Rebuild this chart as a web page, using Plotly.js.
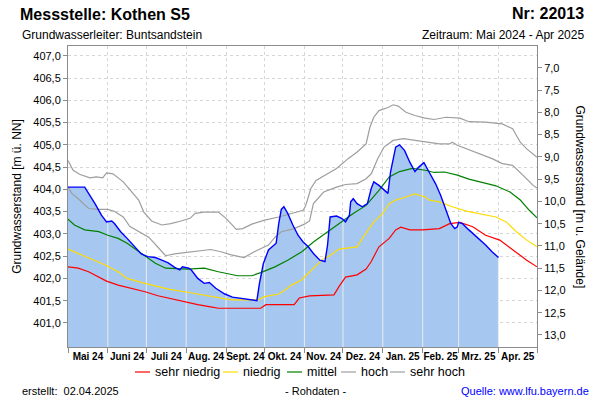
<!DOCTYPE html>
<html><head><meta charset="utf-8">
<script src="https://cdn.plot.ly/plotly-3.0.1.min.js"></script>
<style>html,body{margin:0;padding:0;background:#fff}#chart{width:600px;height:400px}</style>
</head><body><div id="chart"></div>
<script>
// ---------- data ----------
const messDates = ['2024-05-01','2024-05-14','2024-05-22','2024-05-27','2024-05-31','2024-06-04','2024-06-06','2024-06-11','2024-06-16','2024-06-22','2024-06-27','2024-07-02','2024-07-08','2024-07-13','2024-07-18','2024-07-23','2024-07-27','2024-07-29','2024-08-03','2024-08-05','2024-08-10','2024-08-15','2024-08-19','2024-08-24','2024-08-31','2024-09-06','2024-09-11','2024-09-17','2024-09-22','2024-09-25','2024-09-27','2024-09-30','2024-10-04','2024-10-08','2024-10-10','2024-10-12','2024-10-14','2024-10-16','2024-10-19','2024-10-23','2024-10-27','2024-10-31','2024-11-04','2024-11-08','2024-11-13','2024-11-17','2024-11-19','2024-11-21','2024-11-26','2024-11-30','2024-12-03','2024-12-06','2024-12-07','2024-12-09','2024-12-12','2024-12-16','2024-12-20','2024-12-23','2024-12-25','2024-12-29','2025-01-02','2025-01-05','2025-01-07','2025-01-11','2025-01-14','2025-01-18','2025-01-22','2025-01-26','2025-01-29','2025-02-02','2025-02-06','2025-02-11','2025-02-15','2025-02-19','2025-02-23','2025-02-26','2025-02-28','2025-03-01','2025-03-04','2025-03-09','2025-03-16','2025-03-22','2025-03-27','2025-04-01'];
const messValues = [404.05,404.05,403.68,403.42,403.27,403.29,403.24,403.05,402.90,402.71,402.55,402.49,402.47,402.41,402.35,402.25,402.19,402.26,402.23,402.19,402.00,401.89,401.91,401.78,401.65,401.58,401.56,401.53,401.50,401.50,401.89,402.33,402.64,402.73,402.79,403.23,403.55,403.61,403.46,403.20,402.97,402.82,402.71,402.56,402.41,402.38,402.75,403.38,403.40,403.35,403.27,403.42,403.72,403.79,403.68,403.61,403.68,404.02,404.17,404.09,403.98,403.91,404.39,404.95,405.00,404.87,404.61,404.40,404.50,404.60,404.39,404.13,403.87,403.53,403.23,403.12,403.16,403.26,403.23,403.09,402.91,402.75,402.60,402.47];

const sehrNiedrigDates = ['2024-05-01','2024-05-09','2024-05-17','2024-05-25','2024-05-31','2024-06-09','2024-06-19','2024-06-30','2024-07-10','2024-07-20','2024-08-02','2024-08-10','2024-08-20','2024-08-26','2024-09-28','2024-10-02','2024-10-24','2024-10-28','2024-11-05','2024-11-24','2024-11-28','2024-12-03','2024-12-12','2024-12-19','2024-12-23','2024-12-29','2025-01-06','2025-01-11','2025-01-15','2025-01-22','2025-02-01','2025-02-14','2025-02-22','2025-03-02','2025-03-12','2025-03-22','2025-04-02','2025-04-12','2025-04-23','2025-05-01'];
const sehrNiedrigValues = [402.26,402.23,402.15,402.04,401.94,401.85,401.78,401.70,401.61,401.54,401.45,401.41,401.36,401.33,401.33,401.41,401.41,401.56,401.61,401.63,401.82,402.03,402.08,402.21,402.38,402.71,402.90,403.09,403.15,403.09,403.09,403.12,403.23,403.26,403.16,402.97,402.86,402.64,402.41,402.26];

const niedrigDates = ['2024-05-01','2024-05-09','2024-05-19','2024-05-30','2024-06-09','2024-06-16','2024-06-27','2024-07-08','2024-07-18','2024-08-02','2024-08-15','2024-08-26','2024-09-05','2024-09-26','2024-10-01','2024-10-12','2024-10-15','2024-10-22','2024-10-30','2024-11-08','2024-11-16','2024-11-20','2024-11-28','2024-12-12','2024-12-16','2024-12-25','2025-01-01','2025-01-06','2025-01-11','2025-01-19','2025-01-26','2025-02-03','2025-02-06','2025-02-14','2025-02-24','2025-03-07','2025-03-17','2025-03-30','2025-04-07','2025-04-15','2025-04-23','2025-05-01'];
const niedrigValues = [402.66,402.56,402.45,402.30,402.15,402.00,401.91,401.83,401.76,401.69,401.63,401.58,401.52,401.52,401.59,401.65,401.70,401.85,401.97,402.23,402.45,402.50,402.66,402.71,402.90,403.27,403.46,403.68,403.76,403.83,403.90,403.83,403.76,403.72,403.61,403.51,403.46,403.38,403.27,403.05,402.86,402.71];

const mittelDates = ['2024-05-01','2024-05-06','2024-05-14','2024-05-25','2024-06-01','2024-06-09','2024-06-16','2024-06-25','2024-07-02','2024-07-08','2024-07-16','2024-08-02','2024-08-15','2024-08-26','2024-09-10','2024-09-21','2024-09-28','2024-10-09','2024-10-19','2024-10-30','2024-11-08','2024-11-19','2024-11-28','2024-12-09','2024-12-19','2024-12-29','2025-01-06','2025-01-14','2025-01-24','2025-02-03','2025-02-10','2025-02-18','2025-02-28','2025-03-09','2025-03-20','2025-03-30','2025-04-10','2025-04-18','2025-04-25','2025-05-01'];
const mittelValues = [403.33,403.20,403.09,403.05,402.97,402.90,402.79,402.60,402.45,402.34,402.23,402.21,402.23,402.15,402.06,402.06,402.13,402.26,402.41,402.60,402.82,403.05,403.23,403.46,403.64,403.98,404.28,404.40,404.47,404.43,404.38,404.39,404.32,404.23,404.15,404.08,403.94,403.76,403.53,403.36];

const hochDates = ['2024-05-01','2024-05-04','2024-05-09','2024-05-17','2024-05-25','2024-06-01','2024-06-06','2024-06-13','2024-06-18','2024-06-25','2024-07-03','2024-07-10','2024-07-16','2024-07-23','2024-08-02','2024-08-10','2024-08-20','2024-08-28','2024-09-05','2024-09-15','2024-09-23','2024-10-04','2024-10-09','2024-10-14','2024-10-24','2024-11-01','2024-11-05','2024-11-08','2024-11-16','2024-11-26','2024-12-03','2024-12-12','2024-12-19','2024-12-23','2024-12-28','2025-01-02','2025-01-09','2025-01-17','2025-01-24','2025-02-03','2025-02-14','2025-02-22','2025-02-24','2025-02-28','2025-03-07','2025-03-17','2025-03-27','2025-04-04','2025-04-12','2025-04-20','2025-04-28','2025-05-01'];
const hochValues = [404.05,403.91,403.79,403.57,403.55,403.55,403.51,403.38,403.17,403.05,402.92,402.70,402.51,402.55,402.58,402.62,402.65,402.60,402.53,402.47,402.60,402.75,402.92,403.05,403.12,403.22,403.29,403.68,403.94,404.05,404.11,404.13,404.24,404.35,404.69,404.95,405.10,405.14,405.11,405.08,405.02,405.02,405.06,404.99,404.91,404.80,404.69,404.58,404.54,404.32,404.09,404.03];

const sehrHochDates = ['2024-05-01','2024-05-05','2024-05-10','2024-05-18','2024-05-23','2024-05-28','2024-05-31','2024-06-05','2024-06-13','2024-06-20','2024-06-25','2024-06-29','2024-07-05','2024-07-13','2024-07-20','2024-07-28','2024-08-04','2024-08-08','2024-08-15','2024-08-26','2024-09-01','2024-09-09','2024-09-14','2024-09-21','2024-10-01','2024-10-12','2024-10-22','2024-10-31','2024-11-02','2024-11-06','2024-11-10','2024-11-19','2024-11-26','2024-12-05','2024-12-12','2024-12-19','2024-12-22','2024-12-25','2024-12-29','2025-01-05','2025-01-09','2025-01-13','2025-01-19','2025-01-26','2025-02-03','2025-02-10','2025-02-19','2025-03-02','2025-03-09','2025-03-22','2025-04-04','2025-04-12','2025-04-18','2025-04-23','2025-05-01'];
const sehrHochValues = [404.65,404.43,404.34,404.26,404.28,404.26,404.37,404.35,404.17,403.94,403.76,403.49,403.29,403.20,403.23,403.29,403.35,403.46,403.49,403.49,403.35,403.10,403.12,403.22,403.31,403.38,403.46,403.53,403.64,404.02,404.20,404.35,404.47,404.69,404.84,405.02,405.40,405.62,405.77,405.84,405.90,405.87,405.73,405.66,405.60,405.57,405.62,405.60,405.52,405.51,405.47,405.36,405.06,404.91,404.72];

const monthStarts = ['2024-05-01','2024-06-01','2024-07-01','2024-08-01','2024-09-01','2024-10-01','2024-11-01','2024-12-01','2025-01-01','2025-02-01','2025-03-01','2025-04-01','2025-05-01'];
const monthLabels = ['Mai 24','Juni 24','Juli 24','Aug. 24','Sept. 24','Okt. 24','Nov. 24','Dez. 24','Jan. 25','Feb. 25','Mrz. 25','Apr. 25'];
const levelTicks = [401.0,401.5,402.0,402.5,403.0,403.5,404.0,404.5,405.0,405.5,406.0,406.5,407.0];
const depthTicks = [7.0,7.5,8.0,8.5,9.0,9.5,10.0,10.5,11.0,11.5,12.0,12.5,13.0];
const gelaende = 413.73; // Geländehöhe m ü. NN
const legendNames = ['sehr niedrig','niedrig','mittel','hoch','sehr hoch'];

// ---------- styles ----------
const FONT = '"Liberation Sans", Arial, Helvetica, sans-serif';
const colRed = '#ff0000', colYellow = '#ffdc00', colGreen = '#008000', colGray = '#9e9e9e', colBlue = '#0000ff';
const legendColors = [colRed, colYellow, colGreen, colGray, colGray];
const legendItemX = [135, 223, 287, 341, 390];   // pixel start of each legend sample line
const yRange = [400.46, 407.22];
const xRange = [monthStarts[0], monthStarts[monthStarts.length - 1]];

const t = s => new Date(s + 'T00:00:00Z').getTime();
const iso = ms => new Date(ms).toISOString().slice(0, 19).replace('T', ' ');
const mids = monthLabels.map((_, i) => iso((t(monthStarts[i]) + t(monthStarts[i + 1])) / 2));

function interp(dates, vals, d) {
  const x = t(d);
  for (let i = 0; i < dates.length - 1; i++) {
    const a = t(dates[i]), b = t(dates[i + 1]);
    if (x >= a && x <= b) return vals[i] + (vals[i + 1] - vals[i]) * (x - a) / (b - a);
  }
  return null;
}
// month separator lines drawn over the filled area
const sepX = [], sepY = [];
monthStarts.forEach(m => {
  if (t(m) > t(messDates[0]) && t(m) <= t(messDates[messDates.length - 1])) {
    sepX.push(m, m, null);
    sepY.push(yRange[0], interp(messDates, messValues, m), null);
  }
});

const lw = 1.2;
const traces = [
  {x: messDates, y: messValues, type: 'scatter', mode: 'lines', fill: 'tozeroy', fillcolor: '#a6c8f0', line: {width: 0, color: '#a6c8f0'}, hoverinfo: 'skip', showlegend: false},
  {x: sepX, y: sepY, type: 'scatter', mode: 'lines', line: {color: '#ebebeb', width: 1}, hoverinfo: 'skip', showlegend: false},
  {x: sehrNiedrigDates, y: sehrNiedrigValues, name: legendNames[0], type: 'scatter', mode: 'lines', line: {color: colRed, width: lw}},
  {x: niedrigDates, y: niedrigValues, name: legendNames[1], type: 'scatter', mode: 'lines', line: {color: colYellow, width: lw}},
  {x: mittelDates, y: mittelValues, name: legendNames[2], type: 'scatter', mode: 'lines', line: {color: colGreen, width: lw}},
  {x: hochDates, y: hochValues, name: legendNames[3], type: 'scatter', mode: 'lines', line: {color: colGray, width: lw}},
  {x: sehrHochDates, y: sehrHochValues, name: legendNames[4], type: 'scatter', mode: 'lines', line: {color: colGray, width: lw}},
  {x: messDates, y: messValues, name: 'Messwerte', type: 'scatter', mode: 'lines', line: {color: colBlue, width: 1.4}},
  {x: [null], y: [null], xaxis: 'x2', yaxis: 'y', showlegend: false, hoverinfo: 'skip', type: 'scatter', mode: 'lines'},
  {x: [null], y: [null], xaxis: 'x', yaxis: 'y2', showlegend: false, hoverinfo: 'skip', type: 'scatter', mode: 'lines'}
];

const L = 68, R = 537, T = 46, B = 347;
const px = X => (X - L) / (R - L);
const py = Y => (B - Y) / (B - T);

const legendY = 372;
const legendShapes = legendNames.map((n, i) => ({
  type: 'line', xref: 'paper', yref: 'paper', x0: px(legendItemX[i]), x1: px(legendItemX[i] + 15), y0: py(legendY), y1: py(legendY),
  line: {color: legendColors[i], width: 1.2}
}));
const legendAnnots = legendNames.map((n, i) => ({
  text: n, xref: 'paper', yref: 'paper', x: px(legendItemX[i] + 18), y: py(legendY), xanchor: 'left', yanchor: 'middle', showarrow: false, font: {size: 12.5}
}));

const axisGray = '#8c8c8c';
const layout = {
  width: 600, height: 400,
  margin: {l: L, r: 600 - R, t: T, b: 400 - B, pad: 0},
  paper_bgcolor: '#fff', plot_bgcolor: '#fff',
  separators: ',.',
  font: {family: FONT, size: 11, color: '#000'},
  showlegend: false,
  title: {text: 'Messstelle: Kothen S5', xref: 'container', yref: 'container', x: 20 / 600, xanchor: 'left', y: 1 - 14 / 400, yanchor: 'middle', font: {family: FONT, size: 16, weight: 'bold', color: '#000'}},
  xaxis: {type: 'date', range: xRange, tickmode: 'array', tickvals: mids, ticktext: monthLabels, ticks: '', tickangle: 0, showgrid: false, zeroline: false,
          showline: true, linecolor: axisGray, mirror: true, tickfont: {size: 10, weight: 'bold'}, fixedrange: true},
  xaxis2: {type: 'date', overlaying: 'x', anchor: 'y', side: 'bottom', range: xRange, tickmode: 'array', tickvals: monthStarts, showticklabels: false,
           ticks: 'outside', ticklen: 5, tickcolor: axisGray, showgrid: true, gridcolor: '#d6d6d6', griddash: '3px,3px', showline: false, zeroline: false},
  yaxis: {range: yRange, tickmode: 'array', tickvals: levelTicks, tickformat: '.1f', ticks: 'outside', ticklen: 4, tickcolor: axisGray,
          showgrid: true, gridcolor: '#d6d6d6', griddash: '3px,3px', showline: true, linecolor: axisGray, zeroline: false,
          title: {text: 'Grundwasserstand [m ü. NN]', font: {size: 12}, standoff: 9}},
  yaxis2: {overlaying: 'y', side: 'right', anchor: 'x', range: [gelaende - yRange[0], gelaende - yRange[1]], tickmode: 'array', tickvals: depthTicks, tickformat: '.1f',
           ticks: 'outside', ticklen: 4, tickcolor: axisGray, showgrid: false, showline: true, linecolor: axisGray, zeroline: false},
  shapes: legendShapes,
  annotations: [
    {text: 'Nr: 22013', xref: 'paper', yref: 'paper', x: px(586), y: py(14), xanchor: 'right', yanchor: 'middle', showarrow: false, font: {size: 16, weight: 'bold'}},
    {text: 'Grundwasserleiter: Buntsandstein', xref: 'paper', yref: 'paper', x: px(20), y: py(35), xanchor: 'left', yanchor: 'middle', showarrow: false, font: {size: 12}},
    {text: 'Zeitraum: Mai 2024 - Apr 2025', xref: 'paper', yref: 'paper', x: px(586), y: py(35), xanchor: 'right', yanchor: 'middle', showarrow: false, font: {size: 12}},
    {text: 'Grundwasserstand [m u. Gelände]', xref: 'paper', yref: 'paper', x: px(580), y: 0.5, xanchor: 'center', yanchor: 'middle', textangle: 90, showarrow: false, font: {size: 12}},
    {text: 'erstellt:\u00a0\u00a002.04.2025', xref: 'paper', yref: 'paper', x: px(20), y: py(391), xanchor: 'left', yanchor: 'middle', showarrow: false, font: {size: 11}},
    {text: '- Rohdaten -', xref: 'paper', yref: 'paper', x: px(315), y: py(391), xanchor: 'center', yanchor: 'middle', showarrow: false, font: {size: 11}},
    {text: 'Quelle: www.lfu.bayern.de', xref: 'paper', yref: 'paper', x: px(591), y: py(391), xanchor: 'right', yanchor: 'middle', showarrow: false, font: {size: 11, color: '#0000ff'}}
  ].concat(legendAnnots)
};

Plotly.newPlot('chart', traces, layout, {staticPlot: true, displayModeBar: false});
</script>
</body></html>
